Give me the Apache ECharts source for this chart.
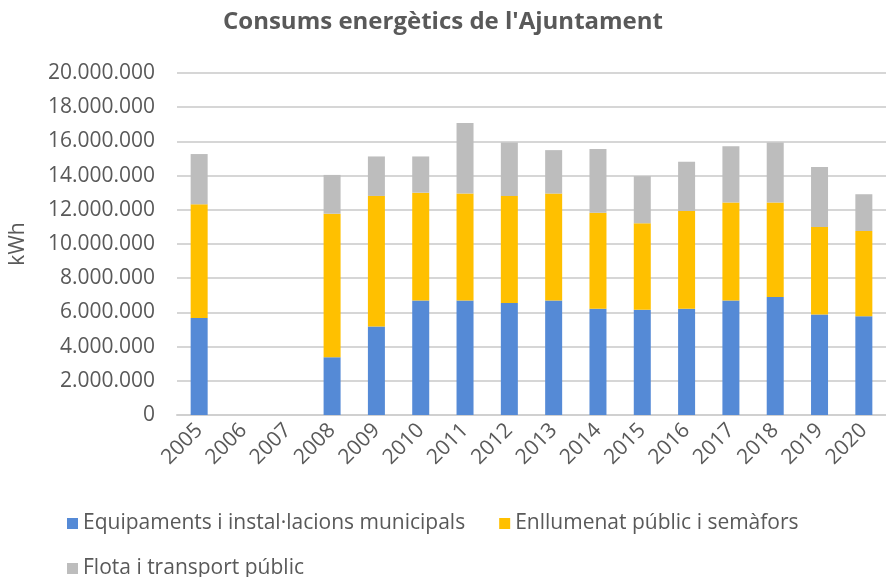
<!DOCTYPE html>
<html>
<head>
<meta charset="utf-8">
<title>Consums energètics de l'Ajuntament</title>
<script src="https://cdn.jsdelivr.net/npm/echarts@6/dist/echarts.min.js"></script>
<style>
  html, body { margin: 0; padding: 0; background: #fff; }
  #main { width: 886px; height: 577px; }
</style>
</head>
<body>
<div id="main"></div>
<script type="text/javascript">
// anys
var years = ['2005', '2006', '2007', '2008', '2009', '2010', '2011', '2012',
             '2013', '2014', '2015', '2016', '2017', '2018', '2019', '2020'];

// kWh per sector (2006 i 2007 sense dades)
var equipaments = [5670000, null, null, 3380000, 5180000, 6690000, 6690000, 6550000,
                   6690000, 6220000, 6160000, 6220000, 6690000, 6900000, 5870000, 5770000];
var enllumenat  = [6650000, null, null, 8390000, 7630000, 6310000, 6260000, 6260000,
                   6260000, 5610000, 5050000, 5710000, 5730000, 5520000, 5120000, 4990000];
var flota       = [2940000, null, null, 2270000, 2310000, 2120000, 4130000, 3130000,
                   2540000, 3720000, 2760000, 2880000, 3290000, 3520000, 3520000, 2150000];

var seriesNames = ['Equipaments i instal\u00b7lacions municipals',
                   'Enllumenat públic i semàfors',
                   'Flota i transport públic'];
var colors = ['#558ad6', '#ffc000', '#bdbdbd'];

var font = 'Open Sans';
var textColor = '#595959';

function fmt(v) {
    // separador de milers amb punt
    return String(v).replace(/\B(?=(\d{3})+(?!\d))/g, '.');
}

var myChart = echarts.init(document.getElementById('main'));
var option = {
    animation: false,
    color: colors,
    title: {
        text: "Consums energètics de l'Ajuntament",
        left: 'center',
        top: 5,
        textStyle: { fontFamily: font, fontSize: 24, fontWeight: 'bold', color: textColor }
    },
    legend: [
        {
            data: [seriesNames[0], seriesNames[1]],
            left: 62, top: 508,
            itemWidth: 11, itemHeight: 11, itemGap: 34,
            icon: 'rect',
            textStyle: { fontFamily: font, fontSize: 21, color: textColor }
        },
        {
            data: [seriesNames[2]],
            left: 62, top: 553,
            itemWidth: 11, itemHeight: 11,
            icon: 'rect',
            textStyle: { fontFamily: font, fontSize: 21, color: textColor }
        }
    ],
    grid: { left: 177, right: -12, top: 73, bottom: 162 },
    xAxis: {
        type: 'category',
        data: years,
        axisTick: { show: false },
        axisLine: { lineStyle: { color: '#d0d0d0', width: 2 } },
        axisLabel: { rotate: 45, margin: 12, fontFamily: font, fontSize: 21, color: textColor }
    },
    yAxis: {
        type: 'value',
        min: 0, max: 20000000, interval: 2000000,
        name: 'kWh',
        nameLocation: 'middle',
        nameGap: 148,
        nameTextStyle: { fontFamily: font, fontSize: 21, color: textColor },
        axisLine: { show: false },
        axisTick: { show: false },
        splitLine: { lineStyle: { color: '#d6d6d6', width: 2 } },
        axisLabel: { margin: 22, fontFamily: font, fontSize: 21, color: textColor, formatter: fmt }
    },
    series: [
        { name: seriesNames[0], type: 'bar', stack: 'total', barWidth: 17, data: equipaments },
        { name: seriesNames[1], type: 'bar', stack: 'total', barWidth: 17, data: enllumenat },
        { name: seriesNames[2], type: 'bar', stack: 'total', barWidth: 17, data: flota }
    ]
};
myChart.setOption(option);
</script>
</body>
</html>
